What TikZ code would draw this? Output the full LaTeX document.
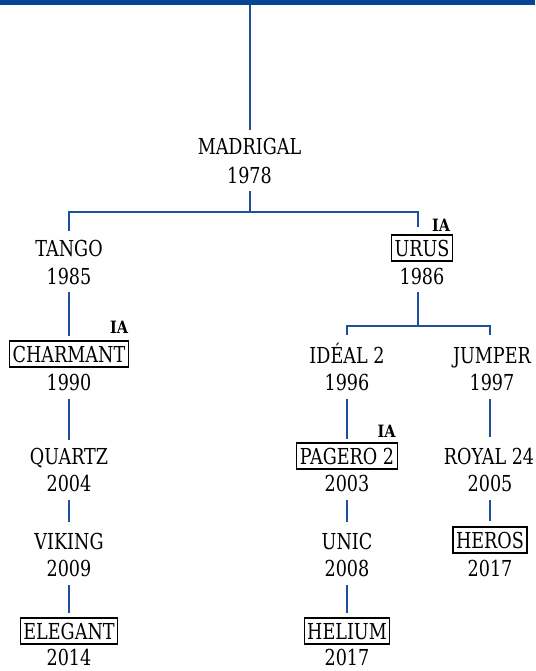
\documentclass[tikz,border=0pt]{standalone}
\usepackage{fontspec}
\setmainfont{DejaVu Serif}[FakeStretch=0.8]
\newfontfamily\iafont{DejaVu Serif}[FakeStretch=0.85]
\usetikzlibrary{calc}
\definecolor{barblue}{RGB}{6,68,150}
\definecolor{lineblue}{RGB}{30,80,160}
\tikzset{
  conn/.style={draw=lineblue, line width=1.3pt},
  nm/.style={font=\fontsize{22}{22}\selectfont, text height=16pt, text depth=0pt,
    inner xsep=3pt, inner ysep=5pt, anchor=center},
  yr/.style={nm},
  lastyr/.style={nm, inner ysep=1pt},
  boxed/.style={nm, draw=black, line width=1.1pt},
  ia/.style={font=\iafont\bfseries\fontsize{17}{17}\selectfont, inner sep=0pt,
    text height=12pt, text depth=0pt}
}
\begin{document}
\begin{tikzpicture}[x=1pt,y=-1pt]
\useasboundingbox (0,0) rectangle (535,671);
\fill[barblue] (0,0) rectangle (535,5);
\coordinate (top) at (250,5);

% nodes
\node[nm] (nMad) at (249.5,147) {MADRIGAL};
\node[yr] (yMad) at (249.5,175) {1978};

\node[nm] (nTan) at (69,248) {TANGO};
\node[yr] (yTan) at (69,276) {1985};
\node[boxed] (nUru) at (422,248) {URUS};
\node[yr] (yUru) at (422,276) {1986};
\node[ia] (ia1) at (441,225) {IA};

\node[boxed] (nCha) at (69,354) {CHARMANT};
\node[yr] (yCha) at (69,382) {1990};
\node[ia] (ia2) at (119,327.5) {IA};
\node[nm] (nIde) at (347,355) {IDÉAL 2};
\node[yr] (yIde) at (347,382) {1996};
\node[nm] (nJum) at (492,355) {JUMPER};
\node[yr] (yJum) at (492,382) {1997};

\node[nm] (nQua) at (69,456) {QUARTZ};
\node[yr] (yQua) at (69,483) {2004};
\node[boxed] (nPag) at (347,456) {PAGERO 2};
\node[yr] (yPag) at (347,483) {2003};
\node[ia] (ia3) at (386.5,431) {IA};
\node[nm] (nRoy) at (489,456) {ROYAL 24};
\node[yr] (yRoy) at (490,483) {2005};

\node[nm] (nVik) at (69,541) {VIKING};
\node[yr] (yVik) at (69,568) {2009};
\node[nm] (nUni) at (347,541) {UNIC};
\node[yr] (yUni) at (347,568) {2008};
\node[boxed] (nHer) at (490,540) {HEROS};
\node[yr] (yHer) at (490,568) {2017};

\node[boxed] (nEle) at (69,631) {ELEGANT};
\node[lastyr] (yEle) at (69,657) {2014};
\node[boxed] (nHel) at (347,631) {HELIUM};
\node[lastyr] (yHel) at (347,657) {2017};

% connectors
\draw[conn, shorten >=4pt] (top) -- (top |- nMad.north);
\coordinate (j1) at (250,212);
\draw[conn, shorten <=3pt] ([xshift=0.5pt]yMad.south) -- (j1);
\draw[conn, shorten >=4pt] (j1) -| (nTan.north);
\draw[conn, shorten >=7pt] (j1) -| ([xshift=-4pt]nUru.north);

\draw[conn, shorten <=3pt, shorten >=4pt] (yTan.south) -- (nCha.north);
\draw[conn, shorten <=4pt, shorten >=3pt] (yCha.south) -- (nQua.north);
\draw[conn, shorten <=4pt, shorten >=6pt] (yQua.south) -- (nVik.north);
\draw[conn, shorten <=4pt, shorten >=4pt] (yVik.south) -- (nEle.north);

\coordinate (j2) at (418,326);
\draw[conn, shorten <=3pt] ([xshift=-4pt]yUru.south) -- (j2);
\draw[conn, shorten >=7pt] (j2) -| (nIde.north);
\draw[conn, shorten >=7pt] (j2) -| ([xshift=-2pt]nJum.north);

\draw[conn, shorten <=4pt, shorten >=3.5pt] (yIde.south) -- (nPag.north);
\draw[conn, shorten <=4pt, shorten >=6pt] ([xshift=-2pt]yJum.south) -- ([xshift=1pt]nRoy.north);
\draw[conn, shorten <=4pt, shorten >=6pt] (yPag.south) -- (nUni.north);
\draw[conn, shorten <=4pt, shorten >=4pt] (yUni.south) -- (nHel.north);
\draw[conn, shorten <=4pt, shorten >=5pt] (yRoy.south) -- (nHer.north);
\end{tikzpicture}
\end{document}
